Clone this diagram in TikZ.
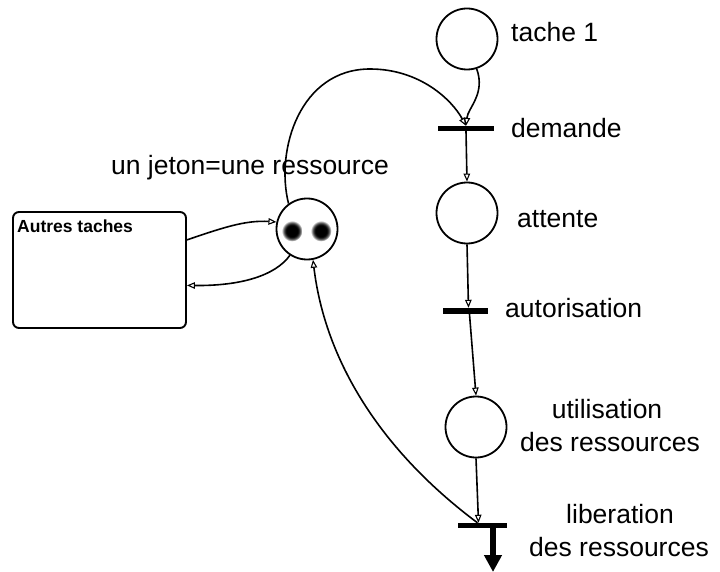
\documentclass[tikz,border=0pt]{standalone}
\usepackage{fontspec}
\setmainfont{Liberation Sans}
\usetikzlibrary{arrows.meta,calc}
% soft-edged token mark
\pgfdeclareradialshading{tokenshade}{\pgfpoint{0bp}{0bp}}{color(0bp)=(black); color(14bp)=(black); color(19bp)=(black!70); color(25bp)=(white)}
\begin{document}
\begin{tikzpicture}[x=1pt,y=-1pt,
  place/.style={circle,draw,line width=1.8pt,minimum size=61pt,inner sep=0pt},
  trans/.style={rectangle,fill=black,inner sep=0pt,minimum height=5pt},
  arc/.style={line width=1.6pt,-{Triangle[open,length=8pt,width=6.5pt,line width=1.1pt]}},
  lbl/.style={font=\fontsize{26.5}{30}\selectfont,inner sep=0pt},
  token/.style={circle,inner sep=0pt,minimum size=21pt,shade,shading=tokenshade},
]
\useasboundingbox (0,0) rectangle (720,572);

% places and transitions of the task
\node[place] (t1) at (467,39) {};
\node[trans,minimum width=56pt] (dem) at (466,128.5) {};
\node[place] (att) at (467,213) {};
\node[trans,minimum width=45pt,minimum height=6pt] (aut) at (465.5,311) {};
\node[place] (uti) at (476,427) {};
\node[trans,minimum width=49pt] (lib) at (482.5,525.5) {};

% shared resource place with its two tokens
\node[place] (res) at (307,229) {};
\node[token] (tok1) at (292,231) {};
\node[token] (tok2) at (321,231) {};

% other tasks
\node[draw,rounded corners=6pt,line width=1.9pt,minimum width=173pt,minimum height=116pt,inner sep=0pt] (box) at (99.5,270) {};
\node[anchor=base west,font=\bfseries\fontsize{17.5}{20}\selectfont,inner sep=0pt] (boxlbl) at (17,233) {Autres taches};

% labels
\node[lbl,anchor=base west] (lt1) at (511,42) {tache 1};
\node[lbl,anchor=base west] (ldem) at (511,138) {demande};
\node[lbl,anchor=base west] (latt) at (517,228) {attente};
\node[lbl,anchor=base west] (laut) at (505,317) {autorisation};
\node[lbl,anchor=base] (luti1) at (607,418) {utilisation};
\node[lbl,anchor=base] (luti2) at (610,451) {des ressources};
\node[lbl,anchor=base] (llib1) at (620,523) {liberation};
\node[lbl,anchor=base] (llib2) at (619,556) {des ressources};
\node[lbl,anchor=base] (lres) at (250,175) {un jeton=une ressource};

% arcs
\draw[arc] (t1.-72) .. controls +(9,25) and +(2,-18) .. (dem.north);
\coordinate (top) at (370,69);
\draw[arc] (res.126) .. controls (275,150) and (300,69) .. (top) .. controls (420,69) and (452,100) .. (dem.north);
\draw[arc] (dem.south) -- (att.north);
\draw[arc] (att.south) -- ([xshift=3pt]aut.north);
\draw[arc] ([xshift=4pt]aut.south) -- (uti.north);
\draw[arc] (uti.south) -- ([xshift=-4pt]lib.north);
\draw[arc] ([xshift=-5pt]lib.north) .. controls (380,450) and (325,360) .. (res.281);
\draw[arc] (box.19) .. controls (222,228) and (245,220) .. (res.167);
\draw[arc] (res.237) .. controls (275,276) and (240,286) .. (box.-10);

% output of the release transition
\coordinate (out) at (493,572);
\draw[line width=6pt,-{Triangle[length=17pt,width=17pt]}] ([xshift=10.5pt]lib.south) -- (out);
\end{tikzpicture}
\end{document}
